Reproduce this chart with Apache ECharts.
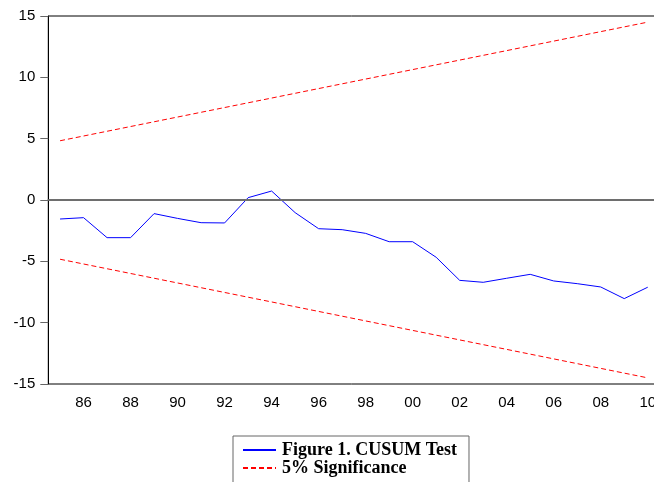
<!DOCTYPE html>
<html>
<head>
<meta charset="utf-8">
<script src="https://cdn.jsdelivr.net/npm/echarts@6/dist/echarts.min.js"></script>
<style>
html,body{margin:0;padding:0;background:#fff;}
#main{width:654px;height:482px;}
</style>
</head>
<body>
<div id="main"></div>
<script>
// years 1985..2010
var years = ["1985","1986","1987","1988","1989","1990","1991","1992","1993","1994",
	"1995","1996","1997","1998","1999","2000","2001","2002","2003","2004",
	"2005","2006","2007","2008","2009","2010"];
var cusum = [-1.55,-1.44,-3.07,-3.07,-1.11,-1.5,-1.85,-1.87,0.19,0.73,
	-1.03,-2.34,-2.42,-2.72,-3.4,-3.4,-4.67,-6.55,-6.71,-6.38,
	-6.06,-6.6,-6.82,-7.09,-8.04,-7.11];
// 5% lines are straight, only the end points are read
var upperEnds = [["1985",4.83],["2010",14.5]];
var lowerEnds = [["1985",-4.83],["2010",-14.5]];
var yTicks = {min:-15,max:15,step:5};

var myChart = echarts.init(document.getElementById('main'));
var option = {
	animation:false,
	grid:{
		left:48.3, top:16, right:-5.5, bottom:98,
		show:true, borderColor:'#000', borderWidth:1,
		outerBoundsMode:'none'
	},
	legend:{
		data:['Figure 1. CUSUM Test','5% Significance'],
		orient:'vertical',
		left:233, top:436,
		height:60,
		padding:[5,12,10,9],
		itemGap:0,
		itemWidth:33, itemHeight:18,
		itemStyle:{opacity:0},
		borderColor:'#666', borderWidth:1,
		textStyle:{fontFamily:'Liberation Serif',fontWeight:'bold',fontSize:18,color:'#000',lineHeight:18,padding:[0,0,0,1]}
	},
	xAxis:{
		type:'category',
		data:years,
		boundaryGap:true,
		axisLine:{lineStyle:{color:'#333',width:1.5}},
		axisTick:{interval:0,length:7,lineStyle:{color:'#222'}},
		axisLabel:{
			interval:function(i){return i%2===1;},
			formatter:function(v){return v.slice(2);},
			margin:11,
			fontFamily:'Liberation Sans',fontSize:15,color:'#000'
		},
		splitLine:{show:false}
	},
	yAxis:{
		type:'value',
		min:yTicks.min, max:yTicks.max, interval:yTicks.step,
		axisLine:{show:true,lineStyle:{color:'#000',width:1}},
		axisTick:{show:true,length:8,lineStyle:{color:'#666'}},
		axisLabel:{margin:13,fontFamily:'Liberation Sans',fontSize:15,color:'#000'},
		splitLine:{show:false}
	},
	series:[
		{
			name:'Figure 1. CUSUM Test',
			type:'line',
			data:cusum,
			symbol:'none',
			lineStyle:{color:'#0000ff',width:1},
			itemStyle:{color:'#0000ff'},
			markLine:{
				silent:true,
				symbol:'none',
				label:{show:false},
				lineStyle:{color:'#6e6e6e',width:2,type:'solid'},
				data:[{yAxis:0}]
			}
		},
		{
			name:'5% Significance',
			type:'line',
			data:upperEnds,
			symbol:'none',
			lineStyle:{color:'#ff0000',width:1,type:[5,3]},
			itemStyle:{color:'#ff0000'}
		},
		{
			name:'5% Significance',
			type:'line',
			data:lowerEnds,
			symbol:'none',
			lineStyle:{color:'#ff0000',width:1,type:[5,3]},
			itemStyle:{color:'#ff0000'}
		}
	]
};
myChart.setOption(option);
</script>
</body>
</html>
